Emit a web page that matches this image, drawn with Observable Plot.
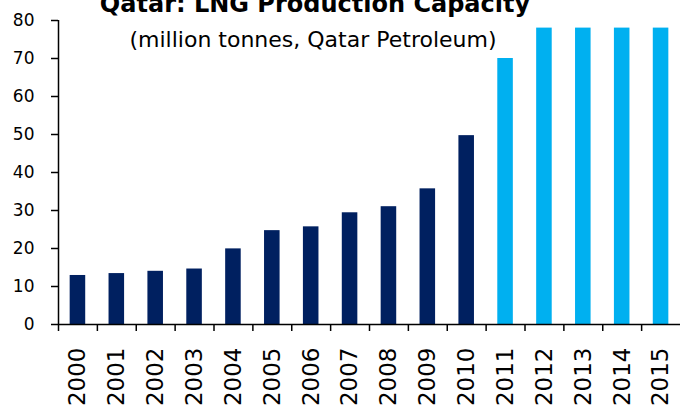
<!DOCTYPE html>
<html>
<head>
<meta charset="utf-8">
<script src="https://cdn.jsdelivr.net/npm/d3@7"></script>
<script src="https://cdn.jsdelivr.net/npm/@observablehq/plot@0.6"></script>
<style>
  html, body { margin: 0; padding: 0; background: #fff; }
  #wrap { position: relative; width: 680px; height: 405px; overflow: hidden; }
  #title { position: absolute; left: 0; width: 630px; text-align: center; top: -10px;
           font-family: "DejaVu Sans", sans-serif; font-weight: bold; font-size: 24px; color: #000; white-space: nowrap; }
  #subtitle { position: absolute; left: 0; width: 626px; text-align: center; top: 27px;
              font-family: "DejaVu Sans", sans-serif; font-size: 22px; color: #000; white-space: nowrap; }
</style>
</head>
<body>
<div id="wrap">
  <div id="chart"></div>
  <div id="title">Qatar: LNG Production Capacity</div>
  <div id="subtitle">(million tonnes, Qatar Petroleum)</div>
</div>
<script>
const years = ["2000","2001","2002","2003","2004","2005","2006","2007","2008","2009","2010","2011","2012","2013","2014","2015"];
const capacity = [12.9, 13.4, 14.0, 14.6, 19.9, 24.7, 25.7, 29.4, 31.0, 35.7, 49.7, 70, 78, 78, 78, 78];
const phase = ["actual","actual","actual","actual","actual","actual","actual","actual","actual","actual","actual","planned","planned","planned","planned","planned"];
const yTicks = [0, 10, 20, 30, 40, 50, 60, 70, 80];

const data = years.map((y, i) => ({year: y, value: capacity[i], phase: phase[i]}));

const W = 680, H = 405, ML = 58, MR = 0, MT = 20, MB = 81;
const step = (W - ML - MR) / years.length;
const tickLen = 7;
const pxPerUnit = (H - MT - MB) / 80;

const chart = Plot.plot({
  width: W,
  height: H,
  marginLeft: ML,
  marginRight: MR,
  marginTop: MT,
  marginBottom: MB,
  style: {fontFamily: "DejaVu Sans, sans-serif", color: "#000", background: "#fff"},
  x: {domain: years, paddingInner: 0.6, paddingOuter: 0.3, round: false, label: null},
  y: {domain: [0, 80], label: null},
  color: {domain: ["actual", "planned"], range: ["#002060", "#00B0F0"]},
  marks: [
    Plot.barY(data, {x: "year", y: "value", fill: "phase"}),
    Plot.ruleY([0], {stroke: "#000", strokeWidth: 1.5}),
    Plot.ruleX(years, {x: d => d, dx: -step / 2, y1: 0, y2: -tickLen / pxPerUnit, stroke: "#000", strokeWidth: 1.5}),
    Plot.ruleX([years[0]], {x: d => d, dx: -step / 2, y1: 0, y2: 80, stroke: "#000", strokeWidth: 1.5}),
    Plot.axisY({ticks: yTicks, tickSize: tickLen, tickPadding: 17, fontSize: 17, strokeWidth: 1.5, tickFormat: d => d}),
    Plot.axisX({tickSize: 0, tickRotate: -90, tickPadding: 23, fontSize: 23})
  ]
});
document.getElementById("chart").appendChild(chart);
</script>
</body>
</html>
